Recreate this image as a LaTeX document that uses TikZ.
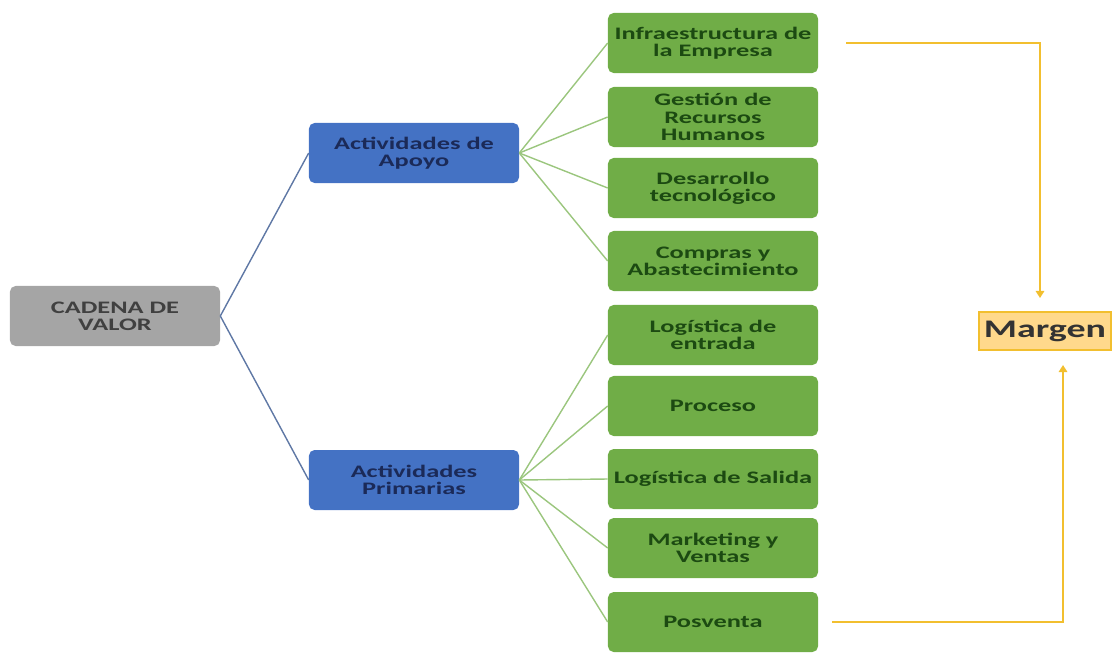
\documentclass[tikz,border=0pt]{standalone}
\usepackage{fontspec}
\setmainfont{Carlito}[FakeStretch=1.5]
\usetikzlibrary{arrows.meta}
\definecolor{verde}{HTML}{70AD47}
\definecolor{verdeosc}{HTML}{1C4A12}
\definecolor{azul}{HTML}{4472C4}
\definecolor{azulosc}{HTML}{1B2A58}
\definecolor{gris}{HTML}{A5A5A5}
\definecolor{oro}{HTML}{F2BF2F}
\definecolor{crema}{HTML}{FFD98C}
\begin{document}
\begin{tikzpicture}[x=0.025cm,y=-0.025cm,
  caja/.style={rounded corners=4pt, minimum width=5.25cm, minimum height=1.5cm, align=center, font=\fontsize{12.5}{12.2}\selectfont\bfseries, inner sep=1pt},
  raiz/.style={caja, fill=gris, text=black!75},
  grupo/.style={caja, fill=azul, text=azulosc},
  tarea/.style={caja, fill=verde, text=verdeosc},
  rama/.style={line width=1pt, color=azul!55!gray},
  hoja/.style={line width=1pt, color=verde!70},
  flujo/.style={line width=1.6pt, color=oro, -{Triangle[length=5pt,width=6pt]}}]
\useasboundingbox (0,0) rectangle (1112,652);
\node [raiz] (cadena) at (115,316) {CADENA DE\\VALOR};
\node [grupo] (apoyo) at (414,153) {Actividades de\\Apoyo};
\node [grupo] (primarias) at (414,480) {Actividades\\Primarias};
\node [tarea] (infra) at (713,43) {Infraestructura de\\la Empresa};
\node [tarea] (rrhh) at (713,117) {Gestión de\\Recursos\\Humanos};
\node [tarea] (tecno) at (713,188) {Desarrollo\\tecnológico};
\node [tarea] (compras) at (713,261) {Compras y\\Abastecimiento};
\node [tarea] (entrada) at (713,335) {Logística de\\entrada};
\node [tarea] (proceso) at (713,406) {Proceso};
\node [tarea] (salida) at (713,479) {Logística de Salida};
\node [tarea] (marketing) at (713,548) {Marketing y\\Ventas};
\node [tarea] (posventa) at (713,622) {Posventa};
\node [draw=oro, line width=0.8pt, fill=crema, minimum width=3.3cm, minimum height=0.95cm, inner sep=1pt, font=\fontsize{18}{19}\selectfont\bfseries, text=black!80] (margen) at (1045,331) {Margen};
\coordinate (sup) at (1040,43);
\coordinate (inf) at (1063,622);
\draw [rama] (cadena.east) -- (apoyo.west);
\draw [rama] (cadena.east) -- (primarias.west);
\foreach \n in {infra,rrhh,tecno,compras}
  \draw [hoja] (apoyo.east) -- (\n.west);
\foreach \n in {entrada,proceso,salida,marketing,posventa}
  \draw [hoja] (primarias.east) -- (\n.west);
\draw [flujo] ([xshift=20]infra.east) -- (sup) -- (sup |- 0,298);
\draw [flujo] ([xshift=10]posventa.east) -- (inf) -- (inf |- 0,365);
\end{tikzpicture}
\end{document}
